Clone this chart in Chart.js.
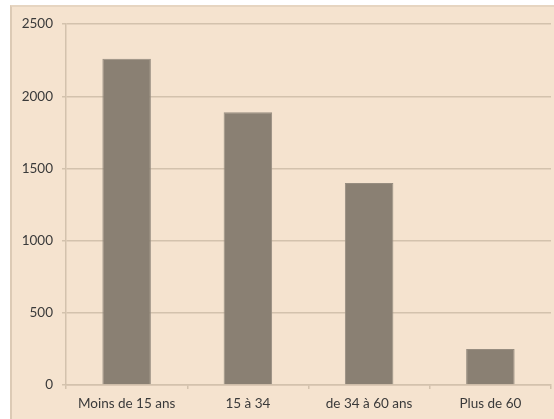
<!DOCTYPE html>
<html>
<head>
<meta charset="utf-8">
<script src="https://cdn.jsdelivr.net/npm/chart.js@4/dist/chart.umd.min.js"></script>
<style>
    html, body { margin: 0; padding: 0; background: #ffffff; }
    #frame {
        position: absolute;
        left: 10px;
        top: 5px;
        width: 542px;
        height: 412px;
        background: #f5e3cf;
        border-left: 2px solid #dccab5;
        border-top: 2px solid #e6d5c1;
    }
    #chart { display: block; }
</style>
</head>
<body>
<div id="frame"><canvas id="chart" width="542" height="412"></canvas></div>
<script>
// Age groups and counts
const categories = ['Moins de 15 ans', '15 à 34', 'de 34 à 60 ans', 'Plus de 60'];
const counts = [2260, 1890, 1400, 250];
const yTicks = [0, 500, 1000, 1500, 2000, 2500];

const textColor = '#3a3a3a';
const gridColor = '#d3c2ad';
const font = { family: 'Lato', size: 13.5 };

const canvas = document.getElementById('chart');

new Chart(canvas, {
    type: 'bar',
    data: {
        labels: categories,
        datasets: [{
            data: counts,
            backgroundColor: '#8a8073',
            borderColor: '#978d80',
            borderWidth: 1,
            categoryPercentage: 1,
            barPercentage: 0.4,
        }]
    },
    options: {
        responsive: false,
        animation: false,
        layout: {
            padding: { top: 14, right: 3, left: 0, bottom: 0 }
        },
        plugins: {
            legend: { display: false },
            tooltip: { enabled: false }
        },
        scales: {
            x: {
                grid: {
                    offset: true,
                    drawOnChartArea: false,
                    color: gridColor,
                    lineWidth: 1.5,
                    tickLength: 4,
                },
                border: { color: gridColor, width: 1.5 },
                ticks: { color: textColor, font: font, padding: 7, maxRotation: 0 },
                afterFit: (scale) => { scale.height = 34; }
            },
            y: {
                min: 0,
                max: 2500,
                afterBuildTicks: (scale) => { scale.ticks = yTicks.map(v => ({ value: v })); },
                grid: {
                    color: gridColor,
                    lineWidth: 1.5,
                    tickLength: 4,
                },
                border: { color: gridColor, width: 1.5 },
                ticks: {
                    color: textColor,
                    font: font,
                    padding: 9,
                    callback: (v) => String(v)
                },
                afterFit: (scale) => { scale.width = 54; }
            }
        }
    }
});
</script>
</body>
</html>
